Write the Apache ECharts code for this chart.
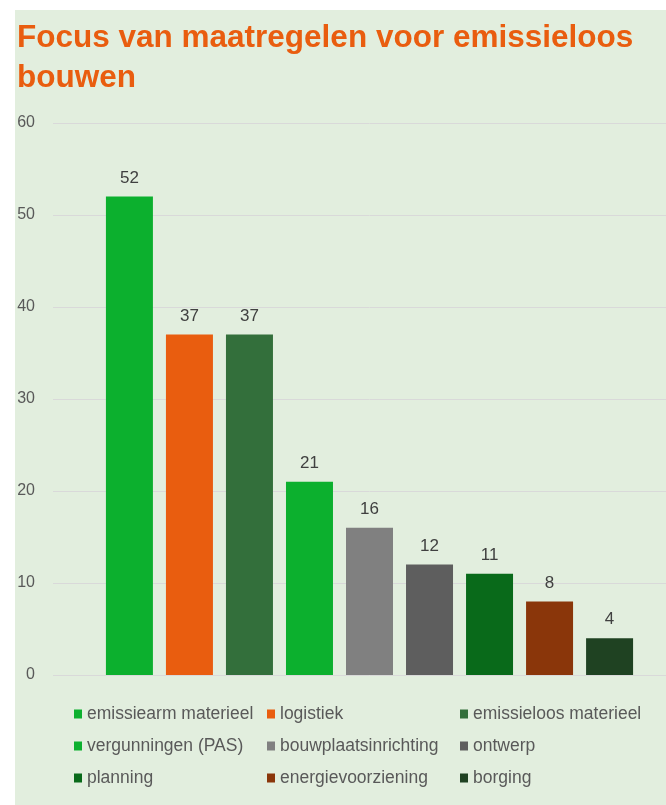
<!DOCTYPE html>
<html>
<head>
<meta charset="utf-8">
<script src="https://cdn.jsdelivr.net/npm/echarts@6/dist/echarts.min.js"></script>
<style>
html,body{margin:0;padding:0;background:#ffffff;overflow:hidden;width:666px;height:805px;}
#bg{position:absolute;left:15px;top:10px;width:651px;height:795px;background:#e2eede;}
#chart{position:absolute;left:0;top:0;width:686px;height:805px;}
</style>
</head>
<body>
<div id="bg"></div>
<div id="chart"></div>
<script>
const titleText = 'Focus van maatregelen voor emissieloos\nbouwen';
const seriesNames = ['emissiearm materieel','logistiek','emissieloos materieel','vergunningen (PAS)','bouwplaatsinrichting','ontwerp','planning','energievoorziening','borging'];
const seriesValues = [52,37,37,21,16,12,11,8,4];
const seriesColors = ['#0cb02e','#e95d0f','#336f3b','#0cb02e','#808080','#5e5e5e','#096a1a','#8a360a','#1f4222'];
const yTicks = {min:0,max:60,interval:10};
const legendCols = [
  ['emissiearm materieel','vergunningen (PAS)','planning'],
  ['logistiek','bouwplaatsinrichting','energievoorziening'],
  ['emissieloos materieel','ontwerp','borging']
];
const legendLefts = [69, 262, 455];

const chart = echarts.init(document.getElementById('chart'));
const font = 'Liberation Sans, Arial, sans-serif';
const option = {
  backgroundColor: 'transparent',
  animation: false,
  title: {
    text: titleText, left: 12, top: 13,
    textStyle: {color:'#e95d0f', fontSize:31.5, fontWeight:'bold', fontFamily:font, lineHeight:40}
  },
  legend: legendCols.map((col,i)=>({
    data: col, orient:'vertical', left: legendLefts[i], top: 700,
    itemWidth: 8, itemHeight: 9, itemGap: 14, icon:'rect',
    textStyle:{color:'#595959', fontSize:17.5, fontFamily:font, lineHeight:18}
  })),
  grid: {left:53, right:0, top:123, bottom:130, containLabel:false},
  xAxis: {type:'category', data:[''], axisLine:{show:false}, axisTick:{show:false}, axisLabel:{show:false}},
  yAxis: {type:'value', min:yTicks.min, max:yTicks.max, interval:yTicks.interval,
    axisLine:{show:false}, axisTick:{show:false},
    axisLabel:{color:'#595959', fontSize:16, fontFamily:font, margin:18},
    splitLine:{lineStyle:{color:'#d9d9d9', width:1}}},
  series: seriesNames.map((n,i)=>({
    name:n, type:'bar', data:[seriesValues[i]], barWidth:47, barGap:'27.7%',
    itemStyle:{color:seriesColors[i]},
    label:{show:true, position:'top', distance:10, color:'#404040', fontSize:17, fontFamily:font}
  }))
};
chart.setOption(option);
</script>
</body>
</html>
